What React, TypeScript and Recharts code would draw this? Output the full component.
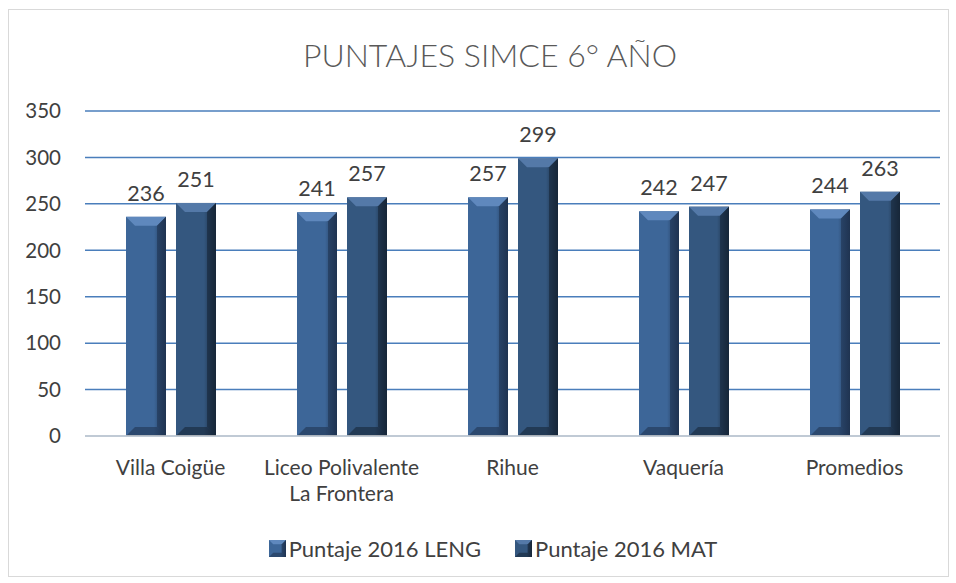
import { Bar, BarChart, CartesianGrid, LabelList, XAxis, YAxis } from 'recharts';

const schools = ['Villa Coigüe', 'Liceo Polivalente La Frontera', 'Rihue', 'Vaquería', 'Promedios'];
const leng = [236, 241, 257, 242, 244];
const mat = [251, 257, 299, 247, 263];
const yTicks = [0, 50, 100, 150, 200, 250, 300, 350];

const data = schools.map((name, i) => ({ name, leng: leng[i], mat: mat[i] }));

const FONT = 'Lato, "Open Sans", sans-serif';

function bevelBar(base: string, light: string, dark: string, id: string) {
  return (props: any) => {
    const { x, y, width: w, height: h } = props;
    if (!h || h <= 0) return <g />;
    const b = Math.min(9, w / 4, h / 2);
    return (
      <g>
        <defs>
          <linearGradient id={id} x1="0" y1="0" x2="1" y2="0">
            <stop offset="0%" stopColor={base} />
            <stop offset="70%" stopColor={base} />
            <stop offset="100%" stopColor={dark} />
          </linearGradient>
        </defs>
        <rect x={x} y={y} width={w} height={h} fill={`url(#${id})`} />
        <polygon points={`${x},${y} ${x + w},${y} ${x + w - b},${y + b} ${x + b},${y + b}`} fill={light} />
        <polygon points={`${x + w},${y} ${x + w},${y + h} ${x + w - b},${y + h - b} ${x + w - b},${y + b}`} fill={dark} opacity={0.6} />
        <polygon points={`${x},${y + h} ${x + w},${y + h} ${x + w - b},${y + h - b} ${x + b},${y + h - b}`} fill={dark} opacity={0.6} />
      </g>
    );
  };
}

const LengShape = bevelBar('#3d6698', '#5f88bd', '#1f3451', 'gLeng');
const MatShape = bevelBar('#34577f', '#5479a8', '#172739', 'gMat');

function CategoryTick({ x, y, payload }: any) {
  const words = String(payload.value);
  const lines = words === 'Liceo Polivalente La Frontera' ? ['Liceo Polivalente', 'La Frontera'] : [words];
  return (
    <text x={x} y={y} textAnchor="middle" fill="#404040" fontSize={21} fontFamily={FONT}>
      {lines.map((l, i) => (
        <tspan key={i} x={x} dy={i === 0 ? 31 : 26}>
          {l}
        </tspan>
      ))}
    </text>
  );
}

export default function App() {
  return (
    <div style={{ position: 'fixed', left: 0, top: 0, width: 956, height: 583, background: '#fff', fontFamily: FONT }}>
      <div style={{ position: 'absolute', left: 8, top: 9, width: 939, height: 566, border: '1px solid #d9d9d9' }} />
      <div style={{ position: 'absolute', left: 0, width: 980, top: 35, textAlign: 'center', fontSize: 32, fontWeight: 300, color: '#595959' }}>
        PUNTAJES SIMCE 6° AÑO
      </div>
      <BarChart
        width={956}
        height={583}
        data={data}
        margin={{ top: 111, right: 16, left: 25, bottom: 87 }}
        barSize={40}
        barGap={10}
        style={{ position: 'absolute', left: 0, top: 0 }}
      >
        <CartesianGrid vertical={false} stroke="#4a7ebb" strokeWidth={1.5} />
        <XAxis
          dataKey="name"
          axisLine={{ stroke: '#d9d9d9', strokeWidth: 1.5 }}
          tickLine={false}
          tick={<CategoryTick />}
          height={60}
          interval={0}
        />
        <YAxis
          domain={[0, 350]}
          ticks={yTicks}
          axisLine={false}
          tickLine={false}
          width={60}
          tickMargin={18}
          tick={{ fill: '#404040', fontSize: 20.5, fontFamily: FONT }}
        />
        <Bar dataKey="leng" isAnimationActive={false} shape={LengShape}>
          <LabelList dataKey="leng" position="top" offset={16} fill="#404040" fontSize={21.5} fontFamily={FONT} />
        </Bar>
        <Bar dataKey="mat" isAnimationActive={false} shape={MatShape}>
          <LabelList dataKey="mat" position="top" offset={16} fill="#404040" fontSize={21.5} fontFamily={FONT} />
        </Bar>
      </BarChart>
      <div style={{ position: 'absolute', top: 535, left: 0, width: 956, display: 'flex', justifyContent: 'center', gap: 34, fontSize: 22, color: '#404040', paddingLeft: 30, boxSizing: 'border-box' }}>
        <span style={{ display: 'flex', alignItems: 'center', gap: 3 }}>
          <svg width={17} height={17}>{bevelBar('#3d6698', '#5f88bd', '#1f3451', 'lLeng')({ x: 0, y: 0, width: 17, height: 17 })}</svg>
          Puntaje 2016 LENG
        </span>
        <span style={{ display: 'flex', alignItems: 'center', gap: 3 }}>
          <svg width={17} height={17}>{bevelBar('#34577f', '#5479a8', '#172739', 'lMat')({ x: 0, y: 0, width: 17, height: 17 })}</svg>
          Puntaje 2016 MAT
        </span>
      </div>
    </div>
  );
}
